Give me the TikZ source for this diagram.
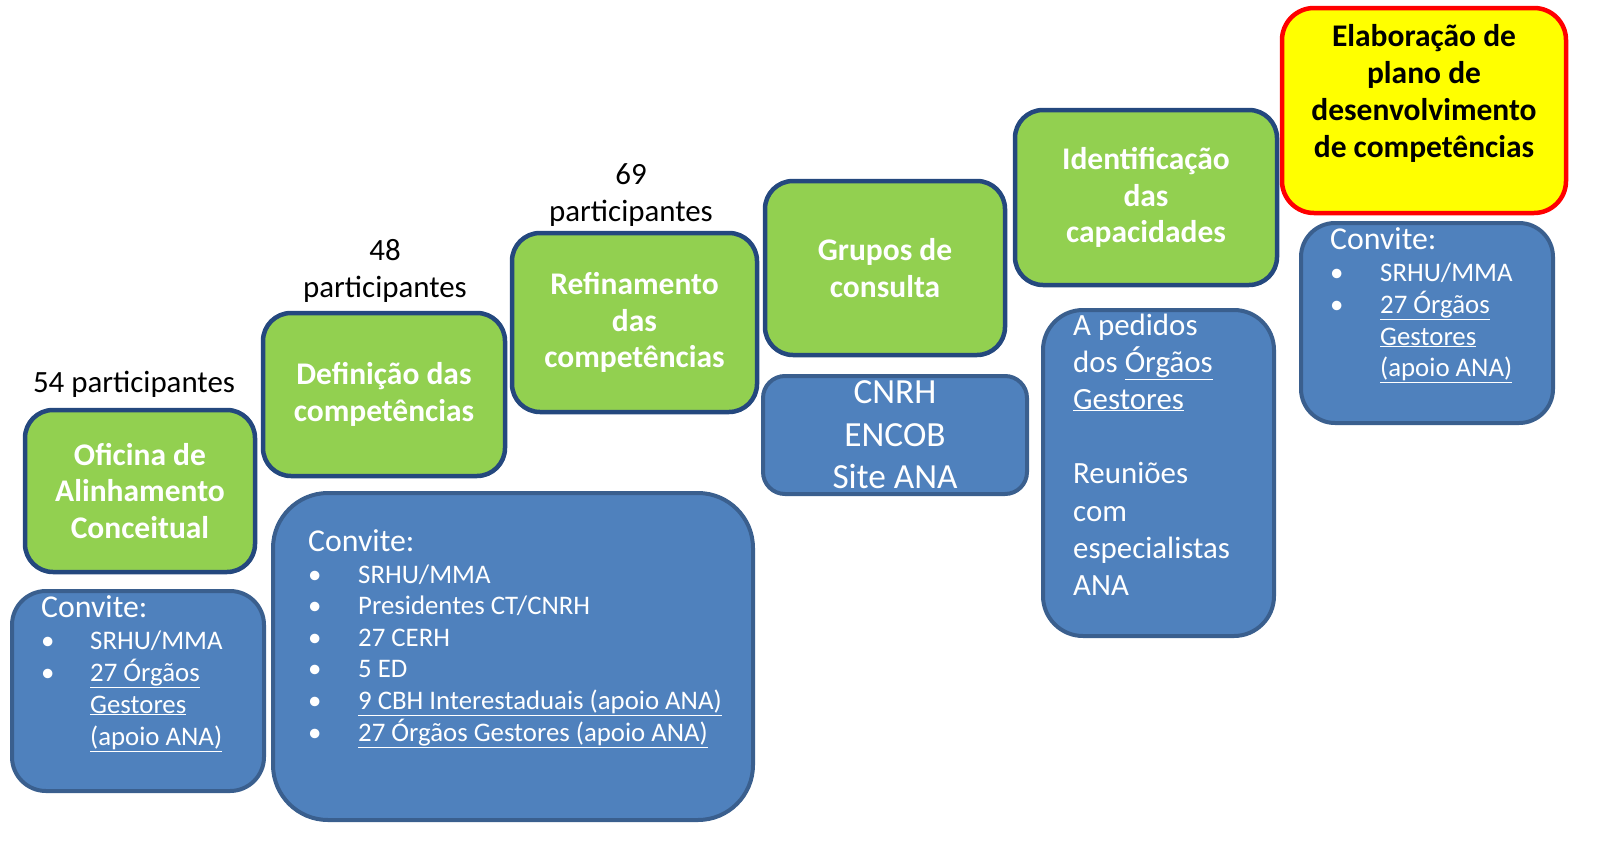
\documentclass[tikz,border=0pt]{standalone}
\usepackage{fontspec}
\setmainfont{Carlito}
\definecolor{gfill}{HTML}{92D050}
\definecolor{gline}{HTML}{24487E}
\definecolor{bfill}{HTML}{4F81BD}
\definecolor{bline}{HTML}{3A5F8E}
\definecolor{yfill}{HTML}{FFFF00}
\definecolor{rline}{HTML}{FF0000}
\begin{document}
\begin{tikzpicture}[x=1pt,y=-1pt,
  gbox/.style={draw=gline, line width=4.5pt, fill=gfill, rounded corners=28pt,
    text=white, font=\fontsize{31.5}{36.5}\selectfont\bfseries, align=center, inner sep=0pt},
  bbox/.style={draw=bline, line width=4pt, fill=bfill, inner sep=0pt},
  ybox/.style={draw=rline, line width=4.5pt, fill=yfill, rounded corners=32pt, inner sep=0pt},
  lt/.style={anchor=base west, inner sep=0pt, text=white, font=\fontsize{26.8}{31}\selectfont},
  ct/.style={anchor=base west, inner sep=0pt, text=white, font=\fontsize{31.8}{37}\selectfont},
  mt/.style={anchor=base west, inner sep=0pt, text=white, font=\fontsize{30.9}{37}\selectfont},
  pt/.style={anchor=base, inner sep=0pt, text=black, font=\fontsize{30.9}{37}\selectfont}
]
\useasboundingbox (0,0) rectangle (1614,846);

% ---- green step boxes
\node[gbox, minimum width=230pt, minimum height=162pt] (g1) at (140,491)
  {Oficina de\\Alinhamento\\Conceitual};
\node[gbox, minimum width=242pt, minimum height=163pt] (g2) at (384,394.5)
  {Definição das\\competências};
\node[gbox, minimum width=245pt, minimum height=179pt] (g3) at (634.5,322.5)
  {Refinamento\\das\\competências};
\node[gbox, minimum width=240pt, minimum height=174pt] (g4) at (885,268)
  {Grupos de\\consulta};
\node[gbox, minimum width=262pt, minimum height=175pt] (g5) at (1146,197.5)
  {Identificação\\das\\capacidades};
\node[ybox, minimum width=284pt, minimum height=205pt] (y6) at (1424,110.5) {};
\node[inner sep=0pt, align=center, font=\fontsize{31.5}{37}\selectfont\bfseries] (y6t) at (1424,93)
  {Elaboração de\\plano de\\desenvolvimento\\de competências};

% ---- participants
\node[pt] (p1) at (134,392) {54 participantes};
\node[pt] (p2a) at (385,260) {48};
\node[pt] (p2b) at (385,297) {participantes};
\node[pt] (p3a) at (631,184) {69};
\node[pt] (p3b) at (631,221) {participantes};

% ---- blue boxes
\node[bbox, rounded corners=34pt, minimum width=252pt, minimum height=200pt] (b1) at (138,691) {};
\node[bbox, rounded corners=55pt, minimum width=480pt, minimum height=327pt] (b2) at (513,656.5) {};
\node[bbox, rounded corners=22pt, minimum width=264pt, minimum height=118pt,
  align=center, text=white, font=\fontsize{35.3}{42.5}\selectfont] (b3) at (895,435)
  {CNRH\\ENCOB\\Site ANA};
\node[bbox, rounded corners=40pt, minimum width=231pt, minimum height=326pt] (b4) at (1158.5,473) {};
\node[bbox, rounded corners=34pt, minimum width=252pt, minimum height=200pt] (b5) at (1427,323) {};

% box 1 text
\node[ct] (b1c) at (41,617) {Convite:};
\node[lt] (b1d1) at (41,649) {\textbullet};
\node[lt] (b1i1) at (90,649) {SRHU/MMA};
\node[lt] (b1d2) at (41,681) {\textbullet};
\node[lt] (b1i2) at (90,681) {\underline{27 Órgãos}};
\node[lt] (b1i3) at (90,713) {\underline{Gestores}};
\node[lt] (b1i4) at (90,745) {\underline{(apoio ANA)}};

% box 2 text
\node[ct] (b2c) at (308,551) {Convite:};
\node[lt] (b2d1) at (308,583) {\textbullet};
\node[lt] (b2i1) at (358,583) {SRHU/MMA};
\node[lt] (b2d2) at (308,614) {\textbullet};
\node[lt] (b2i2) at (358,614) {Presidentes CT/CNRH};
\node[lt] (b2d3) at (308,646) {\textbullet};
\node[lt] (b2i3) at (358,646) {27 CERH};
\node[lt] (b2d4) at (308,677) {\textbullet};
\node[lt] (b2i4) at (358,677) {5 ED};
\node[lt] (b2d5) at (308,709) {\textbullet};
\node[lt] (b2i5) at (358,709) {\underline{9 CBH Interestaduais (apoio ANA)}};
\node[lt] (b2d6) at (308,741) {\textbullet};
\node[lt] (b2i6) at (358,741) {\underline{27 Órgãos Gestores (apoio ANA)}};

% box 4 text
\node[mt] (b4l1) at (1073,335) {A pedidos};
\node[mt] (b4l2) at (1073,372) {dos \underline{Órgãos}};
\node[mt] (b4l3) at (1073,409) {\underline{Gestores}};
\node[mt] (b4l4) at (1073,483) {Reuniões};
\node[mt] (b4l5) at (1073,521) {com};
\node[mt] (b4l6) at (1073,558) {especialistas};
\node[mt] (b4l7) at (1073,595) {ANA};

% box 5 text
\node[ct] (b5c) at (1330,249) {Convite:};
\node[lt] (b5d1) at (1330,281) {\textbullet};
\node[lt] (b5i1) at (1380,281) {SRHU/MMA};
\node[lt] (b5d2) at (1330,313) {\textbullet};
\node[lt] (b5i2) at (1380,313) {\underline{27 Órgãos}};
\node[lt] (b5i3) at (1380,345) {\underline{Gestores}};
\node[lt] (b5i4) at (1380,376) {\underline{(apoio ANA)}};
\end{tikzpicture}
\end{document}
